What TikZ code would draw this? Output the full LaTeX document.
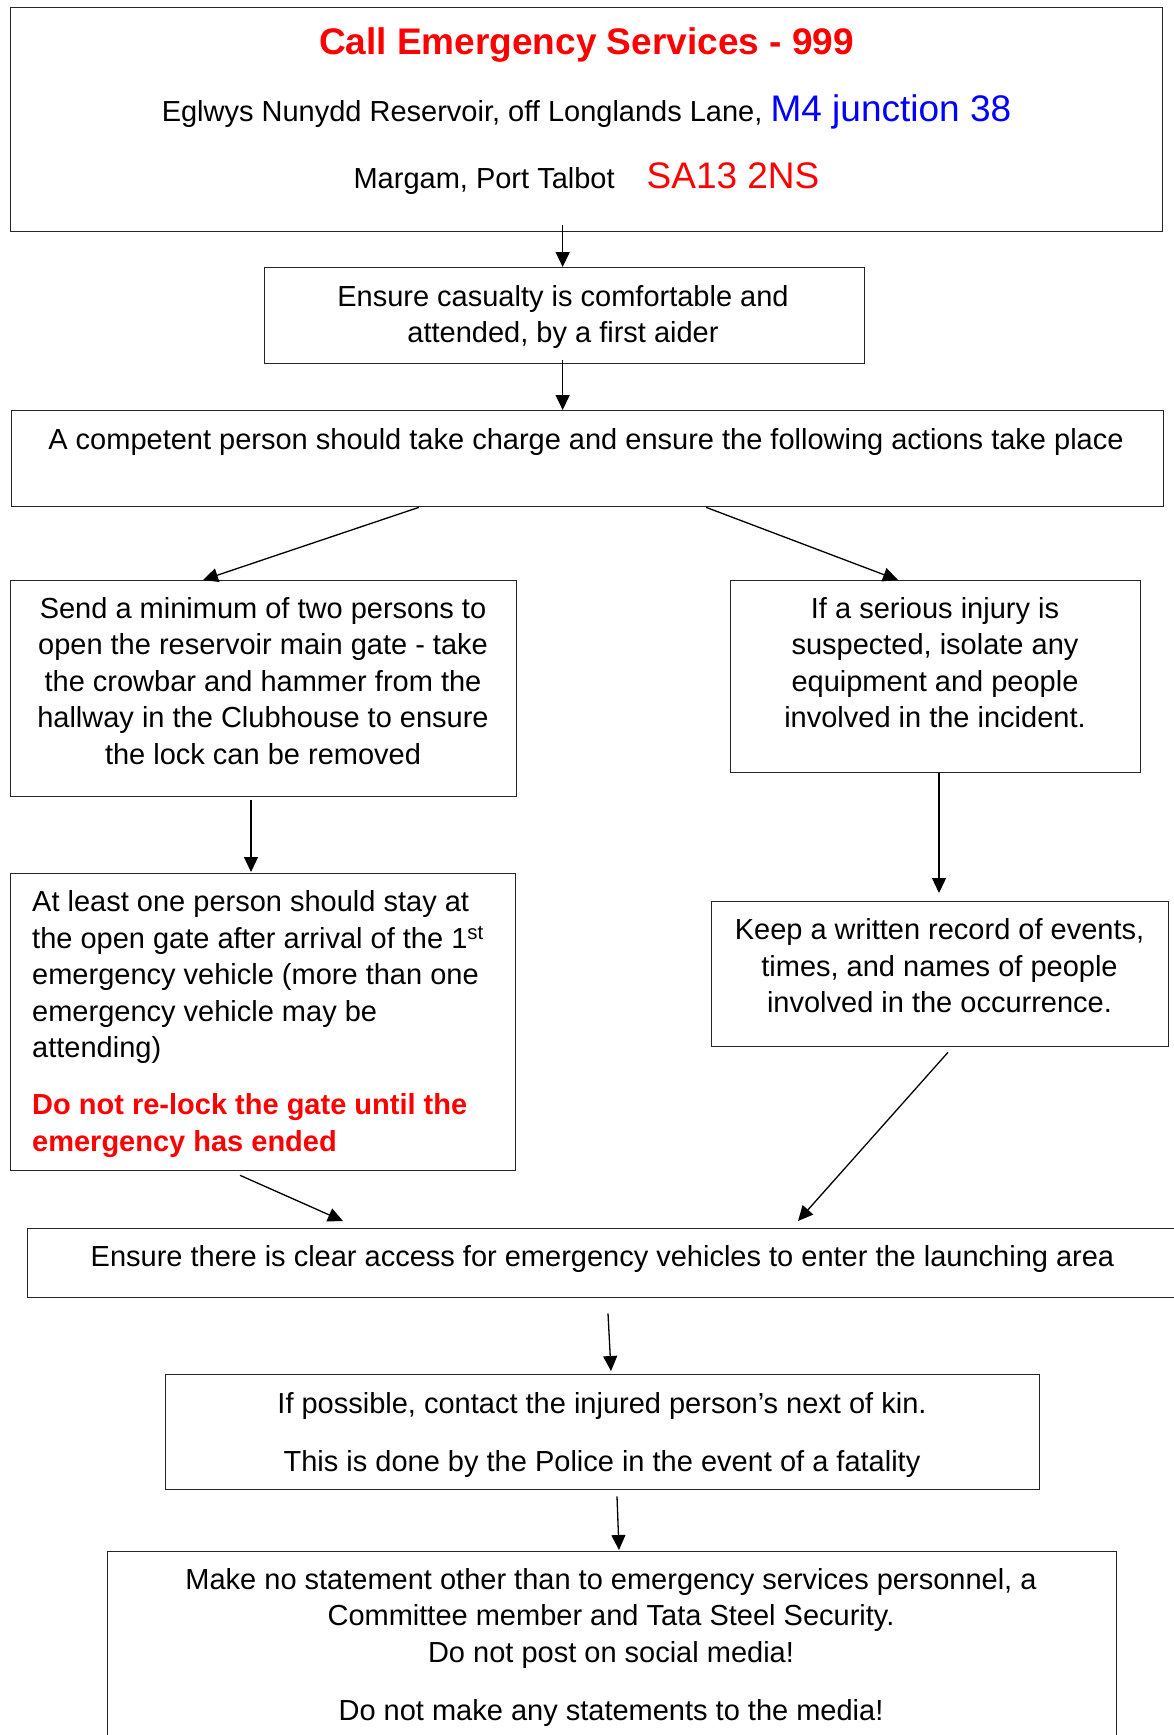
\documentclass[tikz,border=0pt]{standalone}
\usepackage{fontspec}
\setmainfont{Liberation Sans}
\usetikzlibrary{arrows.meta,calc}
\definecolor{myred}{RGB}{255,0,0}
\definecolor{myblue}{RGB}{0,0,255}
\begin{document}
\begin{tikzpicture}[x=1pt,y=-1pt,
  box/.style={draw=black!85, line width=1.3pt, anchor=north west, inner sep=0pt},
  txt/.style={font=\fontsize{29}{36.5}\selectfont, inner sep=0pt, align=center, anchor=base},
  redbold/.style={text=myred, font=\fontsize{29}{36.5}\selectfont\bfseries},
  arr/.style={line width=1.3pt, -{Triangle[length=15pt,width=14pt]}}]
\useasboundingbox (0,0) rectangle (1174,1735);
\fill[white] (0,0) rectangle (1174,1735);
% boxes
\node[box, minimum width=1152pt, minimum height=224pt] (top) at (10,7) {};
\node[box, minimum width=600pt, minimum height=96pt] (box2) at (263.5,267) {};
\node[box, minimum width=1152.5pt, minimum height=96pt] (box3) at (10.5,410) {};
\node[box, minimum width=506pt, minimum height=216pt] (left1) at (10,580) {};
\node[box, minimum width=410pt, minimum height=192pt] (right1) at (730,580) {};
\node[box, minimum width=505pt, minimum height=297pt] (left2) at (10,873) {};
\node[box, minimum width=457pt, minimum height=145pt] (right2) at (711,901) {};
\node[box, minimum width=1153pt, minimum height=69pt] (access) at (27,1228) {};
\node[box, minimum width=874pt, minimum height=115pt] (kin) at (165,1374) {};
\node[box, minimum width=1009pt, minimum height=220pt] (bottom) at (107,1551) {};
% texts (base anchor = baseline of the last line)
\node[txt, text=myred, font=\fontsize{37}{44}\selectfont\bfseries] (title) at (586.5,54) {Call Emergency Services - 999};
\node[txt] (addr) at (586.5,121) {Eglwys Nunydd Reservoir, off Longlands Lane, {\fontsize{37}{44}\selectfont\color{myblue}M4 junction 38}};
\node[txt] (place) at (586.5,188) {Margam, Port Talbot\hspace{32pt}{\fontsize{37}{44}\selectfont\color{myred}SA13 2NS}};
\node[txt] (t2) at (563,342.5) {Ensure casualty is comfortable and\\attended, by a first aider};
\node[txt] (t3) at (586,449) {A competent person should take charge and ensure the following actions take place};
\node[txt] (tl1) at (263,764) {Send a minimum of two persons to\\open the reservoir main gate - take\\the crowbar and hammer from the\\hallway in the Clubhouse to ensure\\the lock can be removed};
\node[txt] (tr1) at (935,727.5) {If a serious injury is\\suspected, isolate any\\equipment and people\\involved in the incident.};
\node[txt, align=left, anchor=base west] (tl2) at (32,1057.7) {At least one person should stay at\\the open gate after arrival of the 1\textsuperscript{st}\\emergency vehicle (more than one\\emergency vehicle may be\\attending)};
\node[txt, redbold, align=left, anchor=base west] (tl2r) at (32,1151.2) {Do not re-lock the gate until the\\emergency has ended};
\node[txt] (tr2) at (939.5,1012.8) {Keep a written record of events,\\times, and names of people\\involved in the occurrence.};
\node[txt] (tacc) at (602.5,1266.7) {Ensure there is clear access for emergency vehicles to enter the launching area};
\node[txt] (tkin) at (602,1471) {If possible, contact the injured person’s next of kin.\\[21pt]This is done by the Police in the event of a fatality};
\node[txt] (tbot) at (611,1720.5) {Make no statement other than to emergency services personnel, a\\Committee member and Tata Steel Security.\\Do not post on social media!\\[22pt]Do not make any statements to the media!};
% arrows
\draw[arr] ($(box2.north |- top.south)+(-1.5,-7)$) -- ($(box2.north)+(-1.5,0)$);
\draw[arr] ($(box2.south)+(-1.5,-4)$) -- ($(box2.south |- box3.north)+(-1.5,0)$);
\draw[arr] ($(box3.south west)+(408.5,0)$) -- ($(left1.north west)+(193,0)$);
\draw[arr] ($(box3.south west)+(695.5,0)$) -- ($(right1.north west)+(168,0)$);
\draw[arr] ($(left1.south west)+(241,3)$) -- ($(left2.north west)+(241,-1)$);
\draw[arr] ($(right1.south west)+(209,0)$) -- ($(right2.north west)+(228,-8)$);
\draw[arr] ($(left2.south west)+(230,4)$) -- ($(access.north west)+(316,-7)$);
\draw[arr] ($(right2.south west)+(237,5)$) -- ($(access.north west)+(771,-7)$);
\draw[arr] ($(access.south west)+(581,15)$) -- ($(kin.north west)+(446,-3)$);
\draw[arr] ($(kin.south west)+(452,6)$) -- ($(bottom.north west)+(512,-1)$);
\end{tikzpicture}
\end{document}
